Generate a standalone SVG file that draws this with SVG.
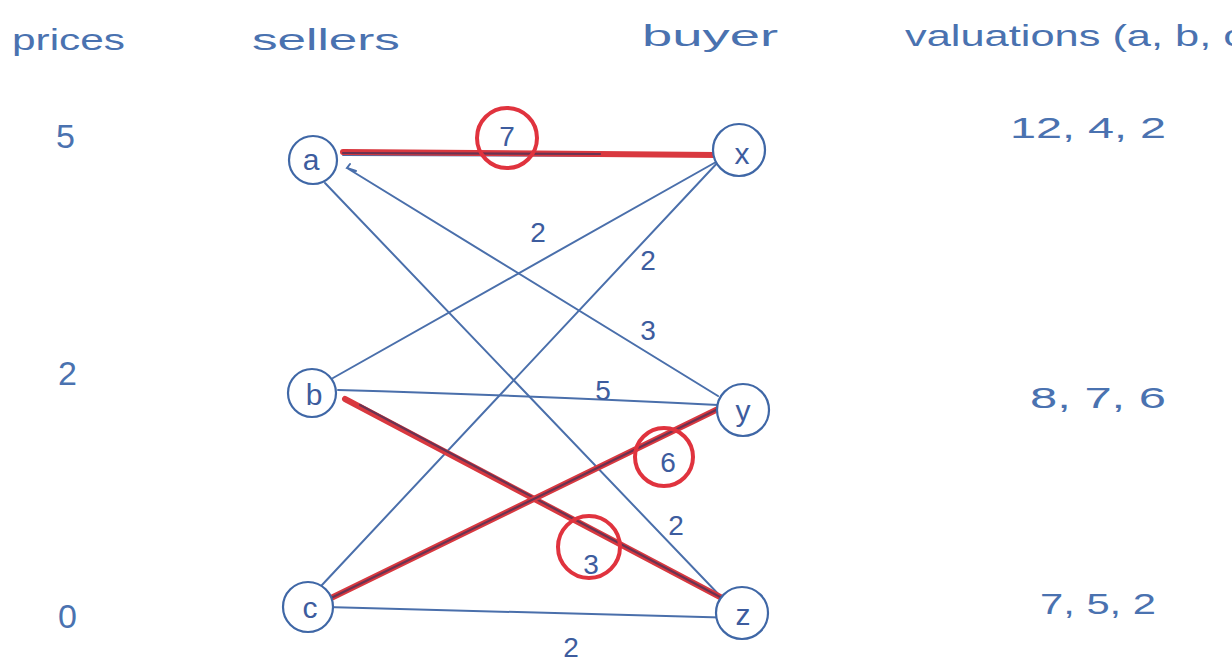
<svg xmlns="http://www.w3.org/2000/svg" width="1232" height="666" viewBox="0 0 1232 666">
  <style>
    .ink { fill: #4a72b0; font-family: "Liberation Sans", "DejaVu Sans", sans-serif; }
    .head { font-size: 30px; }
    .num { font-size: 34px; }
    .val { font-size: 30px; }
    .lbl { fill: #3d5c9e; font-family: "Liberation Sans", "DejaVu Sans", sans-serif; font-size: 28px; text-anchor: middle; }
    .node circle { fill: #ffffff; stroke: #3f67a6; stroke-width: 2.2; }
    .node text { fill: #3d5c9e; font-family: "Liberation Sans", "DejaVu Sans", sans-serif; font-size: 30px; text-anchor: middle; }
    .edge { fill: none; stroke: #4a6fab; stroke-width: 2; stroke-linecap: round; }
    .match { fill: none; stroke: #d9383f; stroke-width: 6; stroke-linecap: round; }
    .matchcore { fill: none; stroke: #6a3352; stroke-width: 2.2; stroke-linecap: round; }
    .ring { fill: none; stroke: #e0333e; stroke-width: 4; }
  </style>

  <!-- column headings -->
  <text class="ink head" x="12" y="50" textLength="113" lengthAdjust="spacingAndGlyphs">prices</text>
  <text class="ink head" x="252" y="50" textLength="148" lengthAdjust="spacingAndGlyphs">sellers</text>
  <text class="ink head" x="642" y="46" textLength="136" lengthAdjust="spacingAndGlyphs">buyer</text>
  <text class="ink head" x="905" y="46" textLength="340" lengthAdjust="spacingAndGlyphs">valuations (a, b, c</text>

  <!-- prices -->
  <text class="ink num" x="56" y="148">5</text>
  <text class="ink num" x="58" y="385">2</text>
  <text class="ink num" x="58" y="628">0</text>

  <!-- valuations per buyer -->
  <text class="ink val" x="1010" y="138" textLength="156" lengthAdjust="spacingAndGlyphs">12, 4, 2</text>
  <text class="ink val" x="1030" y="408" textLength="136" lengthAdjust="spacingAndGlyphs">8, 7, 6</text>
  <text class="ink val" x="1040" y="614" textLength="116" lengthAdjust="spacingAndGlyphs">7, 5, 2</text>

  <!-- connectors -->
  <g id="connectors">
    <line class="edge" x1="325" y1="183" x2="724" y2="600"/>
    <path class="edge" d="M350 164 L347 168 L356 171 M347 168 L718 396"/>
    <line class="edge" x1="333" y1="378" x2="716" y2="162"/>
    <line class="edge" x1="322" y1="585" x2="720" y2="160"/>
    <path class="edge" d="M338 390 Q540 396 718 405"/>
    <line class="edge" x1="326" y1="607" x2="740" y2="618"/>
    <line class="edge" x1="343" y1="155" x2="728" y2="156"/>

    <!-- matched pairs -->
    <line class="match" x1="343" y1="152" x2="716" y2="155"/>
    <line class="matchcore" x1="343" y1="153" x2="600" y2="154"/>
    <line class="match" x1="345" y1="399" x2="722" y2="598"/>
    <line class="matchcore" x1="360" y1="405" x2="722" y2="598"/>
    <line class="match" x1="327" y1="600" x2="718" y2="409"/>
    <line class="matchcore" x1="327" y1="600" x2="718" y2="409"/>

    <!-- payoff labels -->
    <text class="lbl" x="538" y="242">2</text>
    <text class="lbl" x="648" y="270">2</text>
    <text class="lbl" x="648" y="340">3</text>
    <text class="lbl" x="603" y="400">5</text>
    <text class="lbl" x="676" y="535">2</text>
    <text class="lbl" x="571" y="657">2</text>

    <circle class="ring" cx="507" cy="138" r="30"/>
    <text class="lbl" x="507" y="146">7</text>
    <circle class="ring" cx="664" cy="457" r="29"/>
    <text class="lbl" x="668" y="472">6</text>
    <circle class="ring" cx="589" cy="547" r="31"/>
    <text class="lbl" x="591" y="574">3</text>
  </g>

  <!-- sellers -->
  <g id="node-a" class="node"><circle cx="313" cy="160" r="24"/><text x="311" y="170">a</text></g>
  <g id="node-b" class="node"><circle cx="312" cy="393" r="24"/><text x="314" y="405">b</text></g>
  <g id="node-c" class="node"><circle cx="308" cy="607" r="25"/><text x="310" y="618">c</text></g>

  <!-- buyers -->
  <g id="node-x" class="node"><circle cx="739" cy="150" r="26"/><text x="742" y="164">x</text></g>
  <g id="node-y" class="node"><circle cx="743" cy="410" r="26"/><text x="743" y="421">y</text></g>
  <g id="node-z" class="node"><circle cx="742" cy="613" r="26"/><text x="743" y="625">z</text></g>
</svg>
